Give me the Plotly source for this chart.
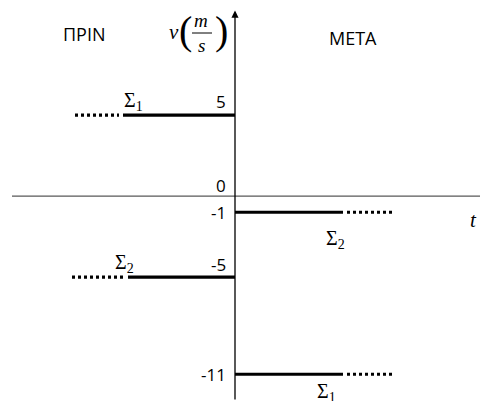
import plotly.graph_objects as go

# ---- data ----
bodies = ["Σ<sub>1</sub>", "Σ<sub>2</sub>"]
v_before = [5, -5]          # m/s before collision
v_after = [-11, -1]         # m/s after collision
tick_values = [5, 0, -1, -5, -11]
tick_labels = ["5", "0", "-1", "-5", "-11"]
# time extents (arbitrary units) of the sketched segments
t_before_solid = [-1.12, -1.07]
t_before_dot = [-1.60, -1.63]
t_after_solid = [1.08, 1.08]
t_after_dot = [1.57, 1.57]

X_RANGE = [-2.35, 2.45]
Y_RANGE = [-12.65, 12.1]
AX_COLOR = "#595959"
SANS = "Open Sans"
SERIF = "Liberation Serif"

fig = go.Figure()

for i in range(2):
    fig.add_trace(go.Scatter(x=[t_before_solid[i], 0], y=[v_before[i]] * 2, mode="lines",
                             line=dict(color="black", width=3.2), hoverinfo="skip"))
    fig.add_trace(go.Scatter(x=[t_before_dot[i], t_before_solid[i] - 0.04], y=[v_before[i]] * 2,
                             mode="lines", line=dict(color="black", width=3.2, dash="3px,3px"),
                             hoverinfo="skip"))
    fig.add_trace(go.Scatter(x=[0, t_after_solid[i]], y=[v_after[i]] * 2, mode="lines",
                             line=dict(color="black", width=3.2), hoverinfo="skip"))
    fig.add_trace(go.Scatter(x=[t_after_solid[i] + 0.04, t_after_dot[i]], y=[v_after[i]] * 2,
                             mode="lines", line=dict(color="black", width=3.2, dash="3px,3px"),
                             hoverinfo="skip"))

# horizontal axis
fig.add_shape(type="line", x0=-2.23, x1=2.45, y0=0, y1=0, xref="x", yref="y",
              line=dict(color=AX_COLOR, width=1.3), layer="below")
# vertical axis with arrow
fig.add_annotation(x=0, y=11.45, ax=0, ay=-12.65, xref="x", yref="y", axref="x", ayref="y",
                   showarrow=True, arrowhead=2, arrowsize=1.1, arrowwidth=1.3,
                   arrowcolor="black", text="")

# tick labels
tick_shift = {"5": 14, "0": 11, "-1": 0, "-5": 13, "-11": 0}
for v, lab in zip(tick_values, tick_labels):
    fig.add_annotation(x=0, y=v, text=lab, showarrow=False, xanchor="right", yanchor="middle",
                       xshift=-7, yshift=tick_shift[lab],
                       font=dict(family=SANS, size=17, color="black"))

# body labels
sig_font = dict(family=SERIF, size=20, color="black")
def sig(t, v, text, dy):
    fig.add_annotation(x=t, y=v, text=text, showarrow=False, xanchor="center", yanchor="middle",
                       yshift=dy, font=sig_font)

sig(-1.02, v_before[0], bodies[0], 14)
sig(-1.11, v_before[1], bodies[1], 14)
sig(1.00, v_after[1], bodies[1], -27)
sig(0.91, v_after[0], bodies[0], -18)

def pa(px, py, text, size, family=SERIF, italic=True):
    fig.add_annotation(x=px / 480, y=1 - py / 401, xref="paper", yref="paper",
                       xanchor="center", yanchor="middle",
                       text=f"<i>{text}</i>" if italic else text, showarrow=False,
                       font=dict(family=family, size=size, color="black"))

# headings
pa(84, 34, "ΠΡΙΝ", 18, family=SANS, italic=False)
pa(353, 38, "ΜΕΤΑ", 18, family=SANS, italic=False)
pa(473, 220, "t", 21)

# axis label v (m/s)
pa(174, 32, "v", 21)
pa(185, 31, "(", 40, italic=False)
pa(221, 31, ")", 40, italic=False)
pa(201, 20, "m", 19)
pa(201, 45, "s", 19)
fig.add_shape(type="line", xref="paper", yref="paper", x0=192 / 480, x1=212 / 480,
              y0=1 - 33 / 401, y1=1 - 33 / 401, line=dict(color="black", width=1))

fig.update_layout(
    width=480, height=401, margin=dict(l=0, r=0, t=0, b=0),
    paper_bgcolor="white", plot_bgcolor="white", showlegend=False,
    xaxis=dict(range=X_RANGE, visible=False, fixedrange=True),
    yaxis=dict(range=Y_RANGE, visible=False, fixedrange=True),
)
fig.write_html("out.html", config={"displayModeBar": False},
               post_script="document.body.style.margin='0';document.body.style.overflow='hidden';")
